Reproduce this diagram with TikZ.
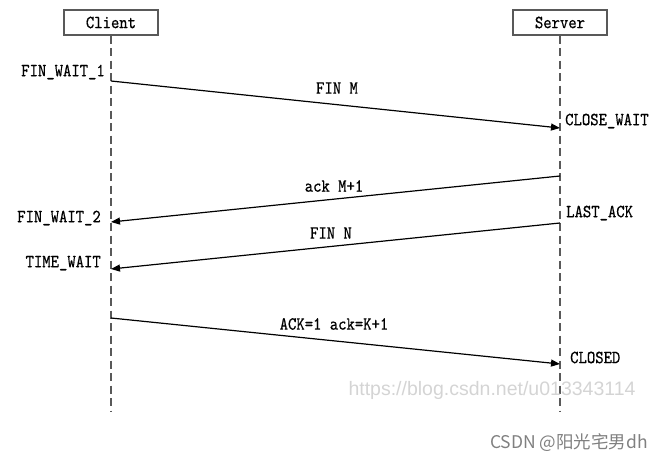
\documentclass[tikz,border=0pt]{standalone}
\usepackage{fontspec}
\setmainfont{Liberation Serif}
\newfontfamily\lblfont{lmmono10-regular}[Extension=.otf,FakeStretch=0.86,FakeBold=0.6]
\newfontfamily\wmfont{Liberation Sans}
\newfontfamily\cjkfont{Noto Sans CJK SC}
\usetikzlibrary{arrows.meta}
\begin{document}
\begin{tikzpicture}[x=1pt,y=-1pt,
  actor/.style={draw=black!65,line width=1.4pt,minimum width=94pt,minimum height=25pt,inner sep=0pt,font=\lblfont\fontsize{18.5}{20}\selectfont},
  life/.style={draw=black!65,line width=1.4pt,dash pattern=on 8pt off 4.5pt},
  msg/.style={draw=black,line width=1.2pt,-{Triangle[length=9pt,width=7pt]}},
  lbl/.style={inner sep=0pt,font=\lblfont\fontsize{18.5}{20}\selectfont},
  wmark/.style={inner sep=0pt,text=black!17,font=\wmfont\fontsize{19.5}{22}\selectfont},
  sig/.style={inner sep=0pt,text=black!50,font=\cjkfont\fontsize{17.5}{20}\selectfont}]
\useasboundingbox (0,0) rectangle (664,462);
% actors
\node[actor] (client) at (111,22.5) {Client};
\node[actor] (server) at (560,22.5) {Server};
\coordinate (cbot) at (111,412);
\coordinate (sbot) at (560,412);
\draw[life] (client.south) -- (cbot);
\draw[life] (server.south) -- (sbot);
% message end points
\coordinate (c1) at (111,81);
\coordinate (s1) at (560,128);
\coordinate (s2) at (560,176);
\coordinate (c2) at (111,222);
\coordinate (s3) at (560,223);
\coordinate (c3) at (111,269);
\coordinate (c4) at (111,318);
\coordinate (s4) at (560,364);
% messages
\draw[msg] (c1) -- (s1);
\draw[msg] (s2) -- (c2);
\draw[msg] (s3) -- (c3);
\draw[msg] (c4) -- (s4);
% message labels
\node[lbl] (m1) at (337,88) {FIN M};
\node[lbl] (m2) at (334,186) {ack M+1};
\node[lbl] (m3) at (331,233) {FIN N};
\node[lbl] (m4) at (334,324) {ACK=1 ack=K+1};
% states
\node[lbl,anchor=east] (st1) at (105,72) {FIN\_WAIT\_1};
\node[lbl,anchor=west] (st2) at (565,121) {CLOSE\_WAIT};
\node[lbl,anchor=east] (st3) at (101,218) {FIN\_WAIT\_2};
\node[lbl,anchor=west] (st4) at (566,213) {LAST\_ACK};
\node[lbl,anchor=east] (st5) at (101,263) {TIME\_WAIT};
\node[lbl,anchor=west] (st6) at (570,357.5) {CLOSED};
% watermarks
\node[wmark] (wm) at (492,390) {https://blog.csdn.net/u013343114};
\node[sig,anchor=east] (sg) at (648,443) {CSDN @阳光宅男dh};
\end{tikzpicture}
\end{document}
